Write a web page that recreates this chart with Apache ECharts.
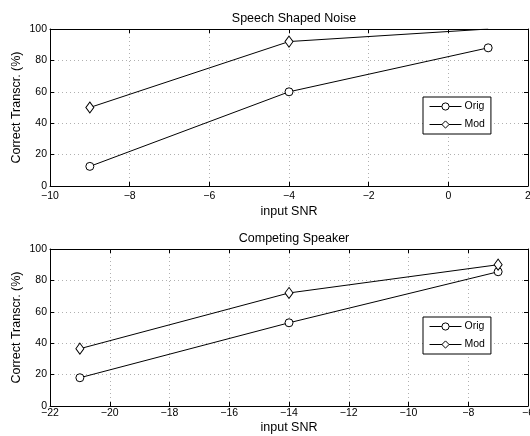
<!DOCTYPE html>
<html><head><meta charset="utf-8">
<script src="https://cdn.jsdelivr.net/npm/echarts@6/dist/echarts.min.js"></script>
<style>html,body{margin:0;padding:0;background:#fff}#c{width:530px;height:436px}</style>
</head><body><div id="c"></div>
<script>
// Panel 1: Speech Shaped Noise
const snr1 = [-9, -4, 1];
const orig1 = [12.5, 60, 88];
const mod1 = [50, 92, 100];
// Panel 2: Competing Speaker
const snr2 = [-21, -14, -7];
const orig2 = [18, 53, 85.5];
const mod2 = [36.5, 72, 90];
const titles = ['Speech Shaped Noise', 'Competing Speaker'];
const seriesNames = ['Orig', 'Mod'];
const xRanges = [[-10, 2], [-22, -6]];
const yRange = [0, 100];

const FONT = '"Liberation Sans", Arial, Helvetica, sans-serif';
const minus = v => String(v).replace('-', '\u2212');
const grids = [
  {left: 50, right: 2, top: 29, height: 157, containLabel: false, outerBoundsMode: 'none'},
  {left: 50, right: 2, top: 249, height: 157, containLabel: false, outerBoundsMode: 'none'}
];
const labelMargins = [5, 2];
const nameGaps = [19, 15];
const xAxes = [], yAxes = [], series = [], legends = [], titleOpts = [];
grids.forEach((g, i) => {
  const base = {gridIndex: i, min: xRanges[i][0], max: xRanges[i][1], interval: 2};
  xAxes.push(Object.assign({}, base, {
    type: 'value', position: 'bottom',
    name: 'input SNR', nameLocation: 'middle', nameGap: nameGaps[i], nameMoveOverlap: false,
    nameTextStyle: {fontFamily: FONT, fontSize: 12.5, color: '#000'},
    axisLine: {show: true, onZero: false, lineStyle: {color: '#000', width: 1}},
    axisTick: {show: true, inside: true, length: 4, lineStyle: {color: '#000'}},
    axisLabel: {formatter: minus, fontFamily: FONT, fontSize: 10.5, color: '#000', margin: labelMargins[i]},
    splitLine: {show: true, lineStyle: {color: '#b0b0b0', type: [1, 3], width: 1}}
  }));
  xAxes.push(Object.assign({}, base, {
    type: 'value', position: 'top',
    axisLine: {show: true, onZero: false, lineStyle: {color: '#000', width: 1}},
    axisTick: {show: true, inside: true, length: 4, lineStyle: {color: '#000'}},
    axisLabel: {show: false}, splitLine: {show: false}
  }));
  const ybase = {gridIndex: i, min: yRange[0], max: yRange[1], interval: 20, type: 'value'};
  yAxes.push(Object.assign({}, ybase, {
    position: 'left',
    name: 'Correct Transcr. (%)', nameLocation: 'middle', nameGap: 27, nameRotate: 90,
    nameMoveOverlap: false,
    nameTextStyle: {fontFamily: FONT, fontSize: 12.5, color: '#000'},
    axisLine: {show: true, onZero: false, lineStyle: {color: '#000', width: 1}},
    axisTick: {show: true, inside: true, length: 4, lineStyle: {color: '#000'}},
    axisLabel: {fontFamily: FONT, fontSize: 10.5, color: '#000', margin: 3},
    splitLine: {show: true, lineStyle: {color: '#b0b0b0', type: [1, 3], width: 1}}
  }));
  yAxes.push(Object.assign({}, ybase, {
    position: 'right',
    axisLine: {show: true, onZero: false, lineStyle: {color: '#000', width: 1}},
    axisTick: {show: true, inside: true, length: 4, lineStyle: {color: '#000'}},
    axisLabel: {show: false}, splitLine: {show: false}
  }));
  titleOpts.push({
    text: titles[i], left: 50 + (530 - 52) / 2, textAlign: 'center',
    top: g.top - 22,
    textStyle: {fontFamily: FONT, fontSize: 12.5, fontWeight: 'normal', color: '#000'}
  });
});

const panels = [[snr1, orig1, mod1], [snr2, orig2, mod2]];
const symbols = ['circle', 'diamond'];
const symSizes = [8, [8, 11]];
panels.forEach((p, i) => {
  [p[1], p[2]].forEach((vals, k) => {
    series.push({
      type: 'line', name: seriesNames[k],
      xAxisIndex: i * 2, yAxisIndex: i * 2,
      symbol: symbols[k], symbolSize: symSizes[k], showAllSymbol: true,
      clip: true,
      itemStyle: {color: '#fff', borderColor: '#000', borderWidth: 1},
      lineStyle: {color: '#000', width: 1},
      data: vals.map((v, j) => (v >= yRange[1]
        ? {value: [p[0][j], v], symbol: 'none'}
        : [p[0][j], v])),
      animation: false, silent: true
    });
  });
  legends.push({
    data: seriesNames.map(n => ({name: n})),
    orient: 'vertical', left: 423, top: grids[i].top + 68,
    itemWidth: 32, itemHeight: 9, itemGap: 7,
    padding: [4, 6, 4, 6],
    backgroundColor: '#fff', borderColor: '#000', borderWidth: 1, borderRadius: 0,
    lineStyle: {color: '#000', width: 1},
    itemStyle: {color: '#fff', borderColor: '#000', borderWidth: 1},
    textStyle: {fontFamily: FONT, fontSize: 10.5, color: '#000', padding: [0, 0, 0, -2]},
    selectedMode: false
  });
});

const chart = echarts.init(document.getElementById('c'), null, {renderer: 'canvas'});
chart.setOption({
  animation: false,
  backgroundColor: '#fff',
  title: titleOpts,
  grid: grids,
  xAxis: xAxes,
  yAxis: yAxes,
  legend: legends,
  series: series
});
</script></body></html>
